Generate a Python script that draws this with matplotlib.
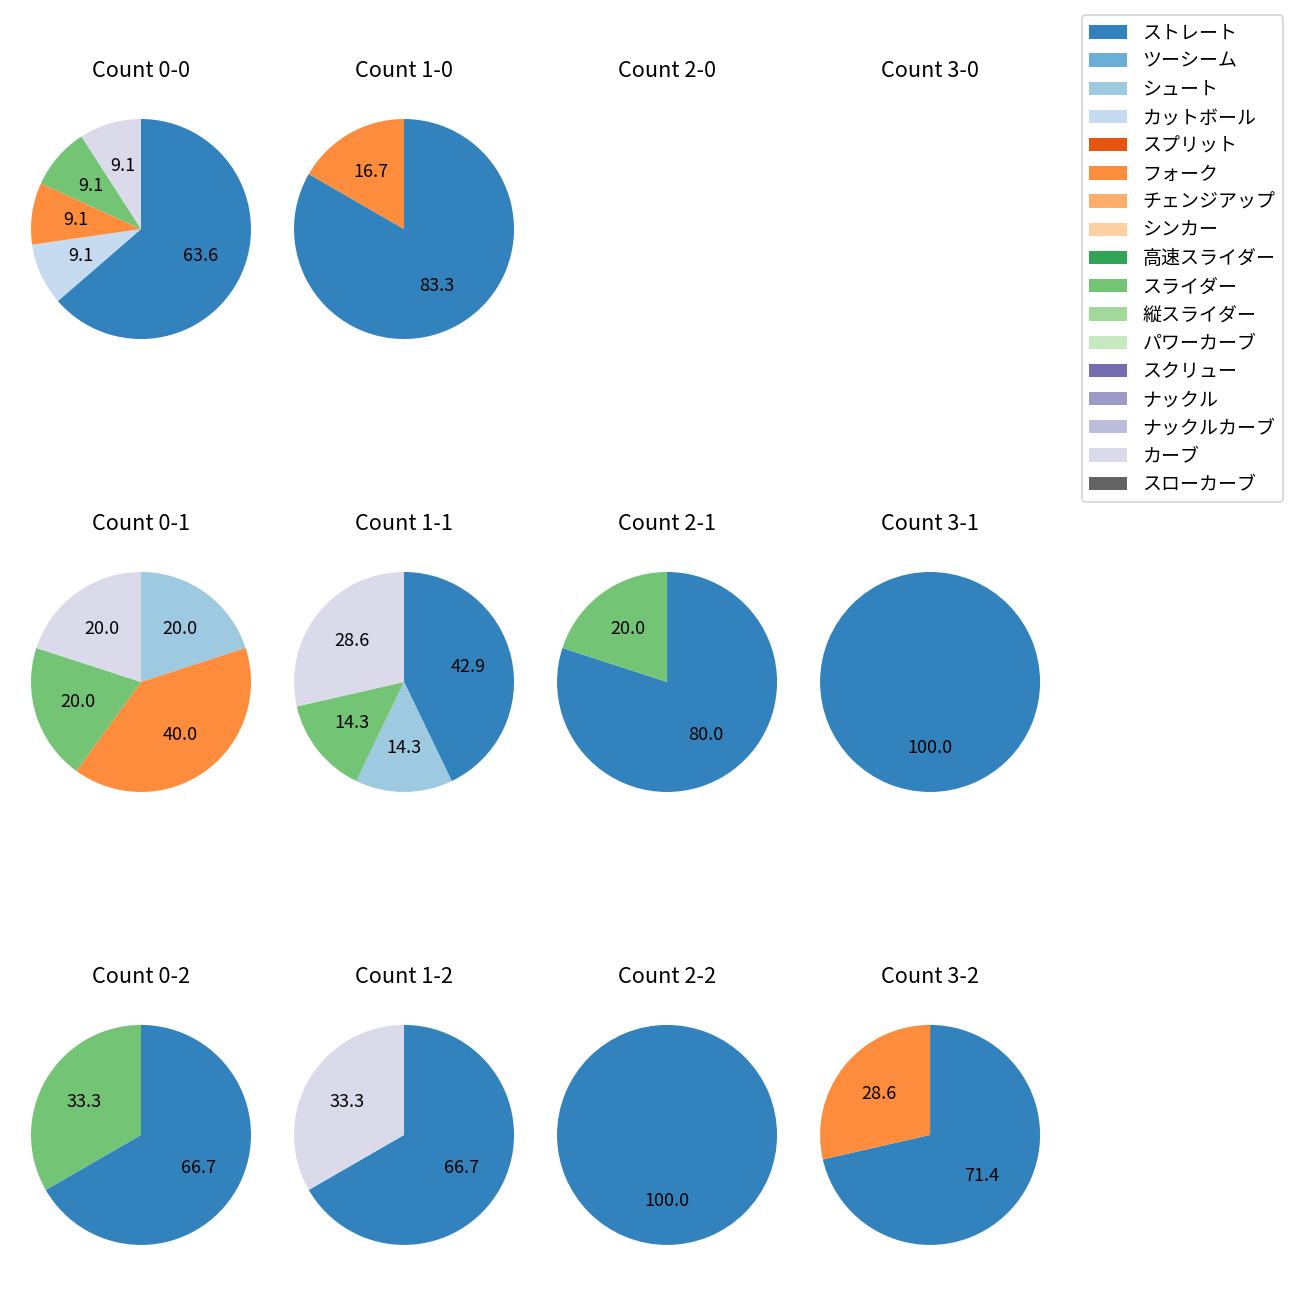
import matplotlib
matplotlib.use("Agg")
import matplotlib.pyplot as plt
from matplotlib.patches import Patch

plt.rcParams['font.family'] = ['Noto Sans CJK JP', 'DejaVu Sans']

# 球種
pitch_types = ['ストレート', 'ツーシーム', 'シュート', 'カットボール', 'スプリット', 'フォーク',
               'チェンジアップ', 'シンカー', '高速スライダー', 'スライダー', '縦スライダー',
               'パワーカーブ', 'スクリュー', 'ナックル', 'ナックルカーブ', 'カーブ', 'スローカーブ']

# カウント別の投球数 (pitch_types の順)
c_0_0 = [7, 0, 0, 1, 0, 1, 0, 0, 0, 1, 0, 0, 0, 0, 0, 1, 0]
c_1_0 = [5, 0, 0, 0, 0, 1, 0, 0, 0, 0, 0, 0, 0, 0, 0, 0, 0]
c_2_0 = [0] * 17
c_3_0 = [0] * 17
c_0_1 = [0, 0, 1, 0, 0, 2, 0, 0, 0, 1, 0, 0, 0, 0, 0, 1, 0]
c_1_1 = [3, 0, 1, 0, 0, 0, 0, 0, 0, 1, 0, 0, 0, 0, 0, 2, 0]
c_2_1 = [4, 0, 0, 0, 0, 0, 0, 0, 0, 1, 0, 0, 0, 0, 0, 0, 0]
c_3_1 = [1, 0, 0, 0, 0, 0, 0, 0, 0, 0, 0, 0, 0, 0, 0, 0, 0]
c_0_2 = [2, 0, 0, 0, 0, 0, 0, 0, 0, 1, 0, 0, 0, 0, 0, 0, 0]
c_1_2 = [2, 0, 0, 0, 0, 0, 0, 0, 0, 0, 0, 0, 0, 0, 0, 1, 0]
c_2_2 = [1, 0, 0, 0, 0, 0, 0, 0, 0, 0, 0, 0, 0, 0, 0, 0, 0]
c_3_2 = [5, 0, 0, 0, 0, 2, 0, 0, 0, 0, 0, 0, 0, 0, 0, 0, 0]

counts = {
    (0, 0): c_0_0, (1, 0): c_1_0, (2, 0): c_2_0, (3, 0): c_3_0,
    (0, 1): c_0_1, (1, 1): c_1_1, (2, 1): c_2_1, (3, 1): c_3_1,
    (0, 2): c_0_2, (1, 2): c_1_2, (2, 2): c_2_2, (3, 2): c_3_2,
}

cmap = plt.get_cmap('tab20c')
colors = [cmap(i) for i in range(len(pitch_types))]

fig, axes = plt.subplots(3, 4, figsize=(10, 10))
fig.subplots_adjust(left=0.0027, right=0.8212, top=0.9296, bottom=0.0212,
                    wspace=-0.0435, hspace=0.647)

for (b, s), vals in counts.items():
    ax = axes[s][b]
    ax.set_title(f'Count {b}-{s}', pad=8)
    idx = [i for i, v in enumerate(vals) if v > 0]
    if not idx:
        ax.axis('off')
        continue
    ax.pie([vals[i] for i in idx], colors=[colors[i] for i in idx],
           autopct='%.1f', startangle=90, counterclock=False)

handles = [Patch(facecolor=colors[i], label=p) for i, p in enumerate(pitch_types)]
fig.legend(handles=handles, loc='upper right', bbox_to_anchor=(0.987, 0.9885),
           borderaxespad=0, fontsize=10.5, labelspacing=0.38)

fig.savefig('out.png', dpi=130)
